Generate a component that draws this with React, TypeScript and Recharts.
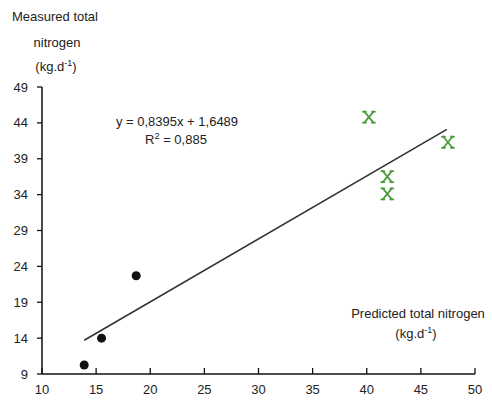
import { ReferenceLine, Scatter, ScatterChart, XAxis, YAxis } from 'recharts';

const lowX = [13.9, 15.5, 18.7];
const lowY = [10.25, 14.0, 22.7];
const highX = [40.2, 47.5, 41.9, 41.9];
const highY = [44.8, 41.3, 36.5, 34.1];

// regression line ends (y = 0,8395x + 1,6489)
const fitX = [13.9, 47.4];
const fitY = [13.7, 43.1];

const xTicks = [10, 15, 20, 25, 30, 35, 40, 45, 50];
const yTicks = [9, 14, 19, 24, 29, 34, 39, 44, 49];

const lowData = lowX.map((x, i) => ({ x, y: lowY[i] }));
const highData = highX.map((x, i) => ({ x, y: highY[i] }));

const font = '"Liberation Sans", Arial, sans-serif';
const ink = '#222';

function XTick(props: any) {
  const { x, y, payload } = props;
  return (
    <g>
      <line x1={x} x2={x} y1={y} y2={y - 6} stroke="#111" strokeWidth={1.3} />
      <text x={x} y={y + 20} textAnchor="middle" fontSize={13} fill={ink} fontFamily={font}>
        {payload.value}
      </text>
    </g>
  );
}

function Dot(props: any) {
  const { cx, cy } = props;
  return <circle cx={cx} cy={cy} r={4.5} fill="#111" />;
}

// X with little serifs on each arm
function Star(props: any) {
  const { cx, cy } = props;
  const c = '#4f9b3f';
  return (
    <g stroke={c} strokeWidth={1.8} fill="none" strokeLinecap="round">
      <line x1={cx - 4.5} y1={cy - 5.5} x2={cx + 4.5} y2={cy + 5.5} />
      <line x1={cx + 4.5} y1={cy - 5.5} x2={cx - 4.5} y2={cy + 5.5} />
      <line x1={cx - 6} y1={cy - 5.5} x2={cx - 3} y2={cy - 5.5} />
      <line x1={cx + 3} y1={cy - 5.5} x2={cx + 6} y2={cy - 5.5} />
      <line x1={cx - 6} y1={cy + 5.5} x2={cx - 3} y2={cy + 5.5} />
      <line x1={cx + 3} y1={cy + 5.5} x2={cx + 6} y2={cy + 5.5} />
    </g>
  );
}

function Label({ x, y, children }: { x: number; y: number; children: any }) {
  return (
    <div
      style={{
        position: 'absolute',
        left: x,
        top: y,
        transform: 'translate(-50%, -50%)',
        whiteSpace: 'nowrap',
        fontFamily: font,
        fontSize: 13,
        color: ink,
        lineHeight: 1,
      }}
    >
      {children}
    </div>
  );
}

const sup = { fontSize: 9, verticalAlign: 'super' as const };

export default function App() {
  return (
    <div style={{ position: 'absolute', left: 0, top: 0, width: 492, height: 403, background: '#fff' }}>
      <ScatterChart width={492} height={403} margin={{ top: 87, right: 17, bottom: 4, left: 4 }}>
        <XAxis
          type="number"
          dataKey="x"
          domain={[10, 50]}
          ticks={xTicks}
          interval={0}
          height={25}
          tickSize={0}
          tickMargin={0}
          tickLine={false}
          tick={<XTick />}
          axisLine={{ stroke: '#111', strokeWidth: 1.5 }}
        />
        <YAxis
          type="number"
          dataKey="y"
          domain={[9, 49]}
          ticks={yTicks}
          interval={0}
          width={38}
          tickSize={5}
          tickMargin={9}
          tick={{ fontSize: 13, fill: ink, fontFamily: font }}
          tickLine={{ stroke: '#111', strokeWidth: 1.3 }}
          axisLine={{ stroke: '#111', strokeWidth: 1.5 }}
        />
        <ReferenceLine
          segment={[
            { x: fitX[0], y: fitY[0] },
            { x: fitX[1], y: fitY[1] },
          ]}
          stroke="#333"
          strokeWidth={1.6}
          ifOverflow="visible"
        />
        <Scatter data={lowData} shape={<Dot />} isAnimationActive={false} />
        <Scatter data={highData} shape={<Star />} isAnimationActive={false} />
      </ScatterChart>
      <Label x={55} y={16}>Measured total</Label>
      <Label x={57} y={42}>nitrogen</Label>
      <Label x={56} y={66}>
        (kg.d<span style={sup}>-1</span>)
      </Label>
      <Label x={177} y={121}>y = 0,8395x + 1,6489</Label>
      <Label x={176} y={139}>
        R<span style={sup}>2</span> = 0,885
      </Label>
      <Label x={418} y={313}>Predicted total nitrogen</Label>
      <Label x={416} y={333}>
        (kg.d<span style={sup}>-1</span>)
      </Label>
    </div>
  );
}
